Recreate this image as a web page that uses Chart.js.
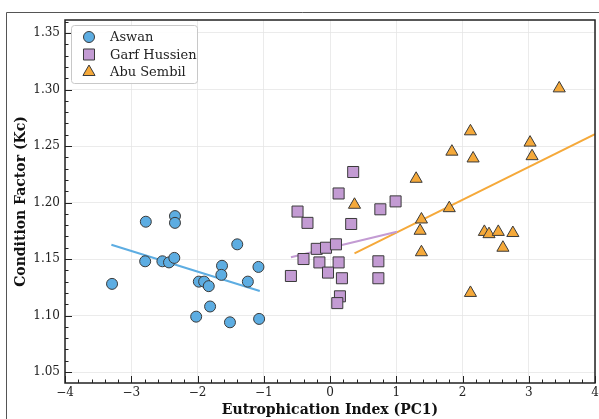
<!DOCTYPE html>
<html>
<head>
<meta charset="utf-8">
<script src="https://cdn.jsdelivr.net/npm/chart.js@4/dist/chart.umd.min.js"></script>
<style>
  html, body { margin: 0; padding: 0; background: #fff; }
  #wrap { width: 599px; height: 419px; position: relative; }
</style>
</head>
<body>
<div id="wrap"><canvas id="chart"></canvas></div>
<script>
// Aswan
const aswanX = [-3.29, -2.78, -2.79, -2.53, -2.43, -2.35, -2.34, -2.34, -1.98, -1.90,
                -1.83, -2.02, -1.81, -1.51, -1.63, -1.64, -1.40, -1.24, -1.08, -1.07];
const aswanY = [1.128, 1.183, 1.148, 1.148, 1.147, 1.151, 1.188, 1.182, 1.130, 1.130,
                1.126, 1.099, 1.108, 1.094, 1.144, 1.136, 1.163, 1.130, 1.143, 1.097];
// Garf Hussien
const garfX = [0.35, 0.13, -0.49, -0.34, 0.32, 0.76, 0.99, -0.20, -0.06, 0.09,
               -0.40, -0.16, 0.13, -0.59, -0.03, 0.18, 0.73, 0.73, 0.15, 0.11];
const garfY = [1.227, 1.208, 1.192, 1.182, 1.181, 1.194, 1.201, 1.159, 1.160, 1.163,
               1.150, 1.147, 1.147, 1.135, 1.138, 1.133, 1.148, 1.133, 1.117, 1.111];
// Abu Sembil
const abuX = [3.46, 2.12, 3.02, 1.84, 2.16, 3.05, 1.30, 0.37, 1.80, 1.38,
              1.36, 1.38, 2.33, 2.40, 2.54, 2.76, 2.61, 2.12];
const abuY = [1.301, 1.263, 1.253, 1.245, 1.239, 1.241, 1.221, 1.198, 1.195, 1.185,
              1.175, 1.156, 1.174, 1.172, 1.174, 1.173, 1.160, 1.120];

// regression line end points
const aswanFitX = [-3.30, -1.06];
const aswanFitY = [1.1627, 1.1217];
const garfFitX = [-0.59, 1.01];
const garfFitY = [1.1515, 1.1742];
const abuFitX = [0.37, 4.0];
const abuFitY = [1.155, 1.2606];

const xTicks = [-4, -3, -2, -1, 0, 1, 2, 3, 4];
const yTicks = [1.05, 1.10, 1.15, 1.20, 1.25, 1.30, 1.35];

const blue = '#5dade2';
const purple = '#c39bd3';
const orange = '#f5a93a';
const edge = '#3a3a3a';
const serif = "'DejaVu Serif', serif";

function pts(xs, ys) {
  return xs.map((x, i) => ({ x: x, y: ys[i] }));
}

function scatterSet(label, xs, ys, color, style, r) {
  return {
    type: 'scatter',
    label: label,
    data: pts(xs, ys),
    backgroundColor: color,
    borderColor: edge,
    borderWidth: 1,
    pointStyle: style,
    pointRadius: r,
    order: 1
  };
}

function fitSet(xs, ys, color) {
  return {
    type: 'line',
    label: '',
    data: pts(xs, ys),
    borderColor: color,
    borderWidth: 2,
    pointRadius: 0,
    fill: false,
    order: 2
  };
}

// frame, inward ticks, legend
const decor = {
  id: 'decor',
  afterDraw(chart) {
    const ctx = chart.ctx;
    const a = chart.chartArea;
    const xs = chart.scales.x, ys = chart.scales.y;
    ctx.save();

    // outer figure frame
    ctx.strokeStyle = '#555';
    ctx.lineWidth = 1;
    ctx.beginPath();
    ctx.moveTo(6.5, 419);
    ctx.lineTo(6.5, 12.5);
    ctx.lineTo(599, 12.5);
    ctx.stroke();

    // axes box
    ctx.strokeStyle = '#222';
    ctx.lineWidth = 1.5;
    ctx.strokeRect(a.left, a.top, a.right - a.left, a.bottom - a.top);

    // major and minor ticks
    ctx.lineWidth = 1;
    ctx.beginPath();
    for (let v = -4; v <= 4.0001; v += 0.2) {
      const px = Math.round(xs.getPixelForValue(v)) + 0.5;
      const major = Math.abs(v - Math.round(v)) < 1e-6;
      ctx.moveTo(px, a.bottom);
      ctx.lineTo(px, a.bottom - (major ? 7 : 3.5));
    }
    for (let k = 104; k <= 136; k++) {
      const v = k / 100;
      if (v < ys.min || v > ys.max) continue;
      const py = Math.round(ys.getPixelForValue(v)) + 0.5;
      const major = k % 5 === 0;
      ctx.moveTo(a.left, py);
      ctx.lineTo(a.left + (major ? 7 : 3.5), py);
    }
    ctx.stroke();

    // legend box
    const lx = 71, ly = 25, lw = 126, lh = 58;
    ctx.fillStyle = 'rgba(255,255,255,0.9)';
    ctx.strokeStyle = '#c8c8c8';
    ctx.lineWidth = 1;
    ctx.beginPath();
    ctx.roundRect(lx + 0.5, ly + 0.5, lw, lh, 3);
    ctx.fill();
    ctx.stroke();

    const items = chart.data.datasets.filter(d => d.type === 'scatter');
    ctx.font = '13px ' + serif;
    ctx.textBaseline = 'middle';
    items.forEach((d, i) => {
      const cy = ly + 12 + i * 17.5;
      ctx.fillStyle = d.backgroundColor;
      ctx.strokeStyle = d.borderColor;
      ctx.lineWidth = 1;
      Chart.helpers.drawPoint(ctx, {
        pointStyle: d.pointStyle,
        radius: d.pointRadius,
        borderWidth: 1,
        rotation: 0
      }, 89, cy);
      ctx.fillStyle = '#222';
      ctx.fillText(d.label, 110, cy + 1);
    });

    ctx.restore();
  }
};

new Chart(document.getElementById('chart'), {
  data: {
    datasets: [
      scatterSet('Aswan', aswanX, aswanY, blue, 'circle', 5.5),
      scatterSet('Garf Hussien', garfX, garfY, purple, 'rect', 7.8),
      scatterSet('Abu Sembil', abuX, abuY, orange, 'triangle', 7),
      fitSet(aswanFitX, aswanFitY, blue),
      fitSet(garfFitX, garfFitY, purple),
      fitSet(abuFitX, abuFitY, orange)
    ]
  },
  options: {
    responsive: true,
    maintainAspectRatio: false,
    animation: false,
    layout: { autoPadding: false, padding: { left: 0, top: 20, right: 4, bottom: 0 } },
    plugins: {
      legend: { display: false },
      tooltip: { enabled: false }
    },
    scales: {
      x: {
        type: 'linear',
        min: -4,
        max: 4,
        afterBuildTicks: s => { s.ticks = xTicks.map(v => ({ value: v })); },
        afterFit: s => { s.height = 36; s.paddingLeft = 0; s.paddingRight = 0; },
        grid: { color: '#e6e6e6', lineWidth: 0.8, borderDash: [3, 3], drawTicks: false },
        border: { display: false },
        ticks: {
          padding: 3,
          color: '#222',
          font: { family: serif, size: 12 },
          callback: v => String(v).replace('-', '\u2212')
        },
        title: {
          display: true,
          text: 'Eutrophication Index (PC1)',
          color: '#111',
          font: { family: serif, size: 14, weight: 'bold' },
          padding: { top: 0, bottom: 0 }
        }
      },
      y: {
        type: 'linear',
        min: 1.0403,
        max: 1.3615,
        afterBuildTicks: s => { s.ticks = yTicks.map(v => ({ value: v })); },
        afterFit: s => { s.width = 65; s.paddingTop = 0; s.paddingBottom = 0; },
        grid: { color: '#e6e6e6', lineWidth: 0.8, borderDash: [3, 3], drawTicks: false },
        border: { display: false },
        ticks: {
          padding: 5,
          color: '#222',
          font: { family: serif, size: 12 },
          callback: v => v.toFixed(2)
        },
        title: {
          display: true,
          text: 'Condition Factor (Kc)',
          color: '#111',
          font: { family: serif, size: 14, weight: 'bold' },
          padding: { top: 13, bottom: 0 }
        }
      }
    }
  },
  plugins: [decor]
});
</script>
</body>
</html>
